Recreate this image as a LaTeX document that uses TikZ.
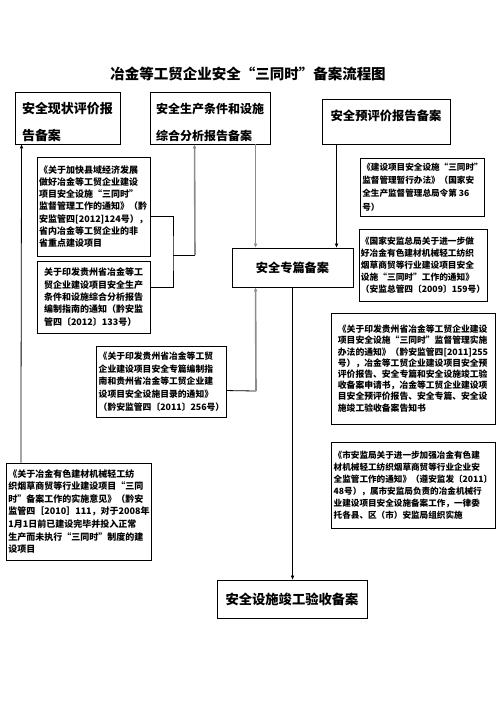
\documentclass[tikz,border=0pt]{standalone}
\usepackage{fontspec}
\setmainfont{Noto Sans CJK SC}
\usetikzlibrary{arrows.meta}
\begin{document}
\begin{tikzpicture}[x=1pt,y=-1pt,
  box/.style={draw, line width=0.9pt, inner xsep=2pt, inner ysep=0pt, align=left},
  sz/.style 2 args={minimum width=#1pt, minimum height=#2pt},
  small/.style={font=\bfseries\fontsize{9}{12.3}\selectfont},
  bl/.style={draw=black, line width=0.8pt},
  gl/.style={draw=black!45, line width=1.6pt},
  arr/.style={-{Triangle[length=4pt,width=3.2pt]}},
]
\fill[white] (0,0) rectangle (496,702);
\useasboundingbox (0,0) rectangle (496,702);

\node[font=\bfseries\fontsize{14.5}{16}\selectfont] (title) at (248,74) {冶金等工贸企业安全“三同时”备案流程图};

\node[box, sz={105}{52}, font=\bfseries\fontsize{13}{27}\selectfont] (A) at (67.5,118) {\rule{0pt}{20pt}安全现状评价报\\告备案};
\node[box, sz={120}{52}, font=\bfseries\fontsize{12}{27}\selectfont] (B) at (210,118) {\rule{0pt}{20pt}安全生产条件和设施\\综合分析报告备案};
\node[box, sz={128}{45}, font=\bfseries\fontsize{12.3}{14}\selectfont] (C) at (386,121.5) {安全预评价报告备案\rule[-12.4pt]{0pt}{1pt}};

\node[box, small, sz={113}{99}] (D) at (93.5,206.5) {《关于加快县域经济发展\\做好冶金等工贸企业建设\\项目安全设施“三同时”\\监督管理工作的通知》（黔\\安监管四[2012]124号），\\省内冶金等工贸企业的非\\省重点建设项目};
\node[box, small, sz={113}{72}] (E) at (93.5,297) {关于印发贵州省冶金等工\\贸企业建设项目安全生产\\条件和设施综合分析报告\\编制指南的通知（黔安监\\管四〔2012〕133号）};

\node[box, sz={121}{39}, font=\bfseries\fontsize{12.2}{14}\selectfont] (S) at (292.5,267.5) {安全专篇备案};

\node[box, sz={123}{58}, font=\bfseries\fontsize{8.6}{13.3}\selectfont] (I) at (422.5,187) {《建设项目安全设施“三同时”\\监督管理暂行办法》（国家安\\全生产监督管理总局令第 36\\号）};
\node[box, sz={124}{72}, font=\bfseries\fontsize{8.7}{12}\selectfont] (J) at (423,265) {《国家安监总局关于进一步做\\好冶金有色建材机械轻工纺织\\烟草商贸等行业建设项目安全\\设施“三同时”工作的通知》\\（安监总管四〔2009〕159号）};

\node[box, sz={164}{111}, font=\bfseries\fontsize{8.8}{11.2}\selectfont] (K) at (413,368.5) {《关于印发贵州省冶金等工贸企业建设\\项目安全设施“三同时”监督管理实施\\办法的通知》（黔安监管四[2011]255\\号），冶金等工贸企业建设项目安全预\\评价报告、安全专篇和安全设施竣工验\\收备案申请书，冶金等工贸企业建设项\\目安全预评价报告、安全专篇、安全设\\施竣工验收备案告知书};
\node[box, sz={164}{86}, font=\bfseries\fontsize{8.6}{12}\selectfont] (L) at (413,485) {《市安监局关于进一步加强冶金有色建\\材机械轻工纺织烟草商贸等行业企业安\\全监管工作的通知》（遵安监发〔2011〕\\48号），属市安监局负责的冶金机械行\\业建设项目安全设施备案工作，一律委\\托各县、区（市）安监局组织实施};

\node[box, sz={129}{71}, font=\bfseries\fontsize{8.8}{12.7}\selectfont] (F) at (161.5,381.5) {《关于印发贵州省冶金等工贸\\企业建设项目安全专篇编制指\\南和贵州省冶金等工贸企业建\\设项目安全设施目录的通知》\\（黔安监管四〔2011〕256号）};

\node[box, sz={144}{97}, font=\bfseries\fontsize{9}{12.6}\selectfont] (H) at (79,511.5) {《关于冶金有色建材机械轻工纺\\织烟草商贸等行业建设项目“三同\\时”备案工作的实施意见》（黔安\\监管四［2010］111，对于2008年\\1月1日前已建设完毕并投入正常\\生产而未执行“三同时”制度的建\\设项目};

\node[box, sz={150}{38}, font=\bfseries\fontsize{13.3}{15}\selectfont] (G) at (292,599) {安全设施竣工验收备案};

% connectors
\draw[bl,arr] ([xshift=15pt]H.north west) -- ([xshift=7pt]A.south west);
\coordinate (jDE) at (173,255);
\coordinate (jB) at (195,255);
\draw[bl] ([yshift=40pt]D.south east) -| (jDE) |- ([yshift=-27pt]E.north east);
\draw[bl] (jDE) -- (jB);
\draw[gl,arr] (jB) -- ([xshift=45pt]B.south west);
\draw[gl,arr] ([xshift=106pt]B.south west) -- ([xshift=24pt]S.north west);
\draw[bl,arr] ([xshift=15pt]C.south west) -- ([xshift=105pt]S.north west);
\coordinate (jF) at (256,391);
\draw[bl] ([yshift=-45pt]F.north east) -- (jF);
\draw[gl,arr] (jF) -- ([xshift=24pt]S.south west);
\draw[bl,arr] ([xshift=61pt]S.south west) -- ([xshift=76pt]G.north west);
\end{tikzpicture}
\end{document}
